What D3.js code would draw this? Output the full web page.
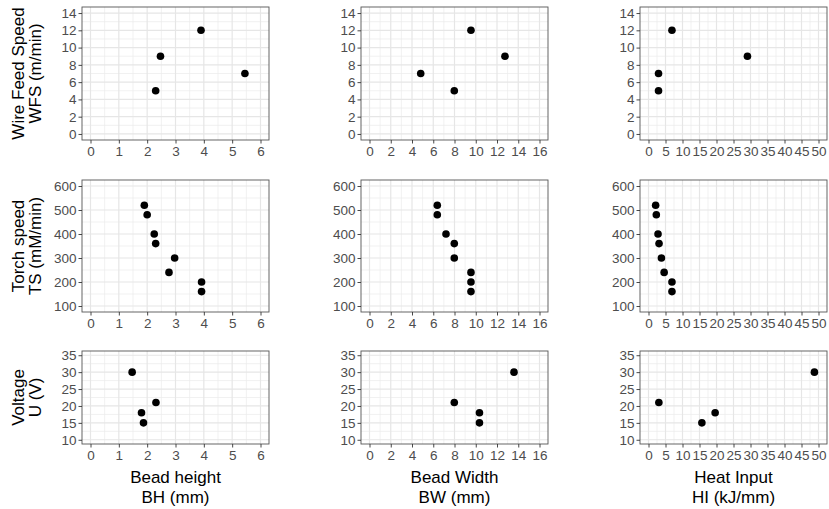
<!DOCTYPE html>
<html>
<head>
<meta charset="utf-8">
<title>Welding parameters</title>
<style>
  body { margin: 0; background: #fff; }
  svg text { font-family: Arial, 'Liberation Sans', sans-serif; }
</style>
<script src="https://d3js.org/d3.v7.min.js"></script>
</head>
<body>
<script>
// rows: wire feed speed set, torch speed set, voltage set
var wfsVals = [5, 7, 9, 12];
var wfsBH = [2.3, 5.45, 2.47, 3.9];
var wfsBW = [7.98, 4.82, 12.75, 9.55];
var wfsHI = [2.95, 2.95, 29.1, 6.9];

var tsVals = [520, 480, 400, 360, 300, 240, 200, 160];
var tsBH = [1.9, 2.0, 2.25, 2.3, 2.97, 2.77, 3.92, 3.92];
var tsBW = [6.38, 6.38, 7.2, 7.98, 7.98, 9.55, 9.55, 9.55];
var tsHI = [2.1, 2.3, 2.8, 3.1, 3.8, 4.6, 6.9, 6.9];

var uVals = [30, 18, 15, 21];
var uBH = [1.47, 1.8, 1.87, 2.31];
var uBW = [13.6, 10.35, 10.35, 7.98];
var uHI = [48.8, 19.6, 15.7, 3.05];

var xTitles = [['Bead height', 'BH (mm)'], ['Bead Width', 'BW (mm)'], ['Heat Input', 'HI (kJ/mm)']];
var yTitles = [['Wire Feed Speed', 'WFS (m/min)'], ['Torch speed', 'TS (mM/min)'], ['Voltage', 'U (V)']];
var xTicks = [d3.range(0, 7, 1), d3.range(0, 17, 2), d3.range(0, 51, 5)];
var yTicks = [d3.range(0, 15, 2), d3.range(100, 601, 100), d3.range(10, 36, 5)];

var rows = [
  { y: wfsVals, xs: [wfsBH, wfsBW, wfsHI] },
  { y: tsVals, xs: [tsBH, tsBW, tsHI] },
  { y: uVals, xs: [uBH, uBW, uHI] }
];

var W = 829, H = 509;
var colLeft = [82, 361, 640], panelW = 187;
var rowTop = [7, 180, 351], rowH = [133, 132, 93];

var svg = d3.select('body').append('svg').attr('width', W).attr('height', H);

function expand(lo, hi) {
  var e = (hi - lo) * 0.05;
  return [lo - e, hi + e];
}

function minors(t) {
  var step = t[1] - t[0];
  var out = [];
  for (var i = 0; i < t.length - 1; i++) out.push(t[i] + step / 2);
  return out;
}

rows.forEach(function (row, r) {
  var yt = yTicks[r];
  var y = d3.scaleLinear()
    .domain(expand(yt[0], yt[yt.length - 1]))
    .range([rowTop[r] + rowH[r], rowTop[r]]);

  row.xs.forEach(function (xv, c) {
    var xt = xTicks[c];
    var x = d3.scaleLinear()
      .domain(expand(xt[0], xt[xt.length - 1]))
      .range([colLeft[c], colLeft[c] + panelW]);
    var g = svg.append('g');
    var x0 = colLeft[c], x1 = colLeft[c] + panelW;
    var y0 = rowTop[r], y1 = rowTop[r] + rowH[r];

    g.append('rect').attr('x', x0).attr('y', y0).attr('width', panelW).attr('height', rowH[r])
      .attr('fill', '#fff');

    // minor grid
    g.selectAll('.mx').data(minors(xt)).enter().append('line')
      .attr('x1', function (d) { return x(d); }).attr('x2', function (d) { return x(d); })
      .attr('y1', y0).attr('y2', y1).attr('stroke', '#ebebeb').attr('stroke-width', 0.7);
    g.selectAll('.my').data(minors(yt)).enter().append('line')
      .attr('y1', function (d) { return y(d); }).attr('y2', function (d) { return y(d); })
      .attr('x1', x0).attr('x2', x1).attr('stroke', '#ebebeb').attr('stroke-width', 0.7);
    // major grid
    g.selectAll('.gx').data(xt).enter().append('line')
      .attr('x1', function (d) { return x(d); }).attr('x2', function (d) { return x(d); })
      .attr('y1', y0).attr('y2', y1).attr('stroke', '#e6e6e6').attr('stroke-width', 1.2);
    g.selectAll('.gy').data(yt).enter().append('line')
      .attr('y1', function (d) { return y(d); }).attr('y2', function (d) { return y(d); })
      .attr('x1', x0).attr('x2', x1).attr('stroke', '#e6e6e6').attr('stroke-width', 1.2);

    // points
    g.selectAll('circle').data(xv).enter().append('circle')
      .attr('cx', function (d) { return x(d); })
      .attr('cy', function (d, i) { return y(row.y[i]); })
      .attr('r', 3.8)
      .attr('fill', '#000');

    g.append('rect').attr('x', x0).attr('y', y0).attr('width', panelW).attr('height', rowH[r])
      .attr('fill', 'none').attr('stroke', '#555').attr('stroke-width', 0.9);

    // axes
    var xa = g.append('g').attr('transform', 'translate(0,' + y1 + ')')
      .call(d3.axisBottom(x).tickValues(xt).tickSize(3.5).tickPadding(3).tickFormat(d3.format('d')));
    var ya = g.append('g').attr('transform', 'translate(' + x0 + ',0)')
      .call(d3.axisLeft(y).tickValues(yt).tickSize(3.5).tickPadding(2).tickFormat(d3.format('d')));
    [xa, ya].forEach(function (a) {
      a.select('.domain').remove();
      a.selectAll('.tick line').attr('stroke', '#333').attr('stroke-width', 0.9);
      a.selectAll('.tick text').attr('fill', '#4d4d4d').style('font-size', '13.5px');
    });

    if (c === 0) {
      var cy = (y0 + y1) / 2;
      yTitles[r].forEach(function (t, k) {
        svg.append('text')
          .attr('transform', 'translate(' + (24 + k * 17) + ',' + cy + ') rotate(-90)')
          .attr('text-anchor', 'middle')
          .style('font-size', '17px')
          .attr('fill', '#000')
          .text(t);
      });
    }
    if (r === 2) {
      var cx = (x0 + x1) / 2;
      xTitles[c].forEach(function (t, k) {
        svg.append('text')
          .attr('x', cx).attr('y', 483 + k * 20)
          .attr('text-anchor', 'middle')
          .style('font-size', '17px')
          .attr('fill', '#000')
          .text(t);
      });
    }
  });
});
</script>
</body>
</html>
